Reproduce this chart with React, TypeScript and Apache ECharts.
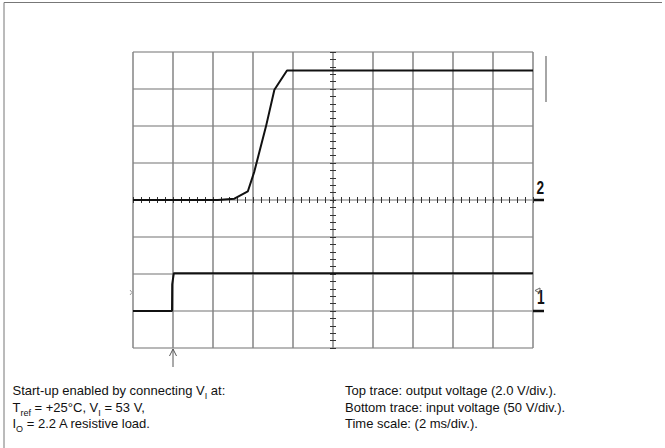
import React, { useEffect, useRef } from "react";
import * as echarts from "echarts";

// Top trace: output voltage (channel 2, 2.0 V/div), time in ms
const outTimeMs = [0, 4.24, 5.07, 5.74, 6.07, 6.65, 7.07, 7.7, 20];
const outVolt = [0, 0, 0.07, 0.46, 1.55, 3.98, 5.96, 7.0, 7.0];
// Bottom trace: input voltage (channel 1, 50 V/div)
const inTimeMs = [0, 1.95, 1.96, 2.04, 20];
const inVolt = [0, 0, 36, 51, 51];
const triggerMs = 2;

const leftNotes = [
  "Start-up enabled by connecting V{sub|I} at:",
  "T{sub|ref} = +25°C, V{sub|I} = 53 V,",
  "I{sub|O} = 2.2 A resistive load.",
];
const rightNotes = [
  "Top trace: output voltage (2.0 V/div.).",
  "Bottom trace: input voltage (50 V/div.).",
  "Time scale: (2 ms/div.).",
];

const FONT = '"Liberation Sans", Arial, sans-serif';
const MARK_FONT = 'bold 19px "Liberation Sans", Arial, sans-serif';

function tickAxis(inside: boolean, isX: boolean, zeroIdx: number) {
  return {
    type: "value",
    min: isX ? 0 : -20,
    max: isX ? 50 : 20,
    interval: 1,
    position: isX ? "bottom" : "left",
    axisLine: { show: false, onZero: true, onZeroAxisIndex: zeroIdx },
    axisTick: { show: true, inside, length: 3, lineStyle: { color: "#333", width: 1 } },
    axisLabel: { show: false },
    splitLine: { show: false },
  };
}

export default function App() {
  const ref = useRef<HTMLDivElement>(null);
  useEffect(() => {
    if (!ref.current) return;
    const chart = echarts.init(ref.current, undefined, { renderer: "svg" });
    const option: any = {
      animation: false,
      grid: { left: 133, top: 52, width: 400, height: 296, containLabel: false },
      xAxis: [
        {
          type: "value", min: 0, max: 20, interval: 2, position: "bottom",
          axisLine: { show: false, onZero: false },
          axisTick: { show: false }, axisLabel: { show: false },
          splitLine: { show: true, lineStyle: { color: "#858585", width: 1.5 } },
        },
        tickAxis(true, true, 0),
        tickAxis(false, true, 0),
        { type: "value", min: -10, max: 10, show: false },
      ],
      yAxis: [
        {
          type: "value", min: -8, max: 8, interval: 2, position: "left",
          axisLine: { show: false, onZero: false },
          axisTick: { show: false }, axisLabel: { show: false },
          splitLine: { show: true, lineStyle: { color: "#b8b8b8", width: 2 } },
        },
        { type: "value", min: -50, max: 350, interval: 50, show: false, axisLine: { onZero: false } },
        tickAxis(true, false, 3),
        tickAxis(false, false, 3),
      ],
      series: [
        {
          type: "line", xAxisIndex: 0, yAxisIndex: 0, showSymbol: false, z: 5,
          data: outTimeMs.map((t, i) => [t, outVolt[i]]),
          lineStyle: { color: "#111", width: 2 },
        },
        {
          type: "line", xAxisIndex: 0, yAxisIndex: 1, showSymbol: false, z: 5,
          data: inTimeMs.map((t, i) => [t, inVolt[i]]),
          lineStyle: { color: "#111", width: 2 },
        },
      ],
    };
    chart.setOption(option);

    const g2 = chart.convertToPixel({ yAxisIndex: 0 } as any, 0) as number;
    const g1 = chart.convertToPixel({ yAxisIndex: 1 } as any, 0) as number;
    const tx = chart.convertToPixel({ xAxisIndex: 0 } as any, triggerMs) as number;
    const gr = chart.convertToPixel({ xAxisIndex: 0 } as any, 20) as number;
    const gl = chart.convertToPixel({ xAxisIndex: 0 } as any, 0) as number;
    const gb = chart.convertToPixel({ yAxisIndex: 0 } as any, -8) as number;
    const gt = chart.convertToPixel({ yAxisIndex: 0 } as any, 8) as number;

    const graphics: any[] = [
      { type: "line", shape: { x1: 4, y1: 2.5, x2: 662, y2: 2.5 }, style: { stroke: "#777", lineWidth: 1 } },
      { type: "line", shape: { x1: 4, y1: 2.5, x2: 4, y2: 448 }, style: { stroke: "#777", lineWidth: 1 } },
      // channel ground markers
      { type: "line", shape: { x1: gr, y1: g2, x2: gr + 11, y2: g2 }, style: { stroke: "#111", lineWidth: 2.5 } },
      { type: "line", shape: { x1: gr, y1: g1, x2: gr + 11, y2: g1 }, style: { stroke: "#111", lineWidth: 2.5 } },
      { type: "text", x: gr + 3.5, y: g2 - 2.5, scaleX: 0.72, style: { text: "2", font: MARK_FONT, fill: "#111", verticalAlign: "bottom" } },
      { type: "text", x: gr + 4, y: g1 - 3.5, scaleX: 0.72, scaleY: 1.1, style: { text: "1", font: MARK_FONT, fill: "#111", verticalAlign: "bottom" } },
      { type: "polygon", shape: { points: [[gr + 7, g1 - 23], [gr + 2, g1 - 20.5], [gr + 7, g1 - 18]] }, style: { stroke: "#666", fill: "none", lineWidth: 1 } },
      // right cursor
      { type: "line", shape: { x1: gr + 13, y1: gt + 4, x2: gr + 13, y2: gt + 50 }, style: { stroke: "#888", lineWidth: 1.5 } },
      // left marker
      { type: "polyline", shape: { points: [[gl - 3, g1 - 21], [gl - 1, g1 - 18.5], [gl - 3, g1 - 16]] }, style: { stroke: "#999", lineWidth: 1 } },
      // trigger arrow
      { type: "line", shape: { x1: tx, y1: gb + 1, x2: tx, y2: gb + 19 }, style: { stroke: "#555", lineWidth: 1 } },
      { type: "polyline", shape: { points: [[tx - 3.5, gb + 8], [tx, gb + 1], [tx + 3.5, gb + 8]] }, style: { stroke: "#555", lineWidth: 1, fill: "none" } },
    ];

    leftNotes.forEach((t, i) => {
      graphics.push({
        type: "text", x: 12.5, y: 380.5 + i * 16.6,
        style: {
          text: t, font: "13px " + FONT, fill: "#111", verticalAlign: "top", lineHeight: 16,
          rich: { sub: { fontSize: 9, fontFamily: FONT, lineHeight: 20, verticalAlign: "bottom" } },
        },
      });
    });
    rightNotes.forEach((t, i) => {
      graphics.push({
        type: "text", x: 345, y: 390.5 + i * 16.6,
        style: { text: t, font: "13px " + FONT, fill: "#111", verticalAlign: "middle" },
      });
    });
    chart.setOption({ graphic: graphics });

    return () => chart.dispose();
  }, []);
  return (
    <div
      ref={ref}
      style={{ position: "absolute", left: 0, top: 0, width: 665, height: 448, background: "#fff" }}
    />
  );
}
